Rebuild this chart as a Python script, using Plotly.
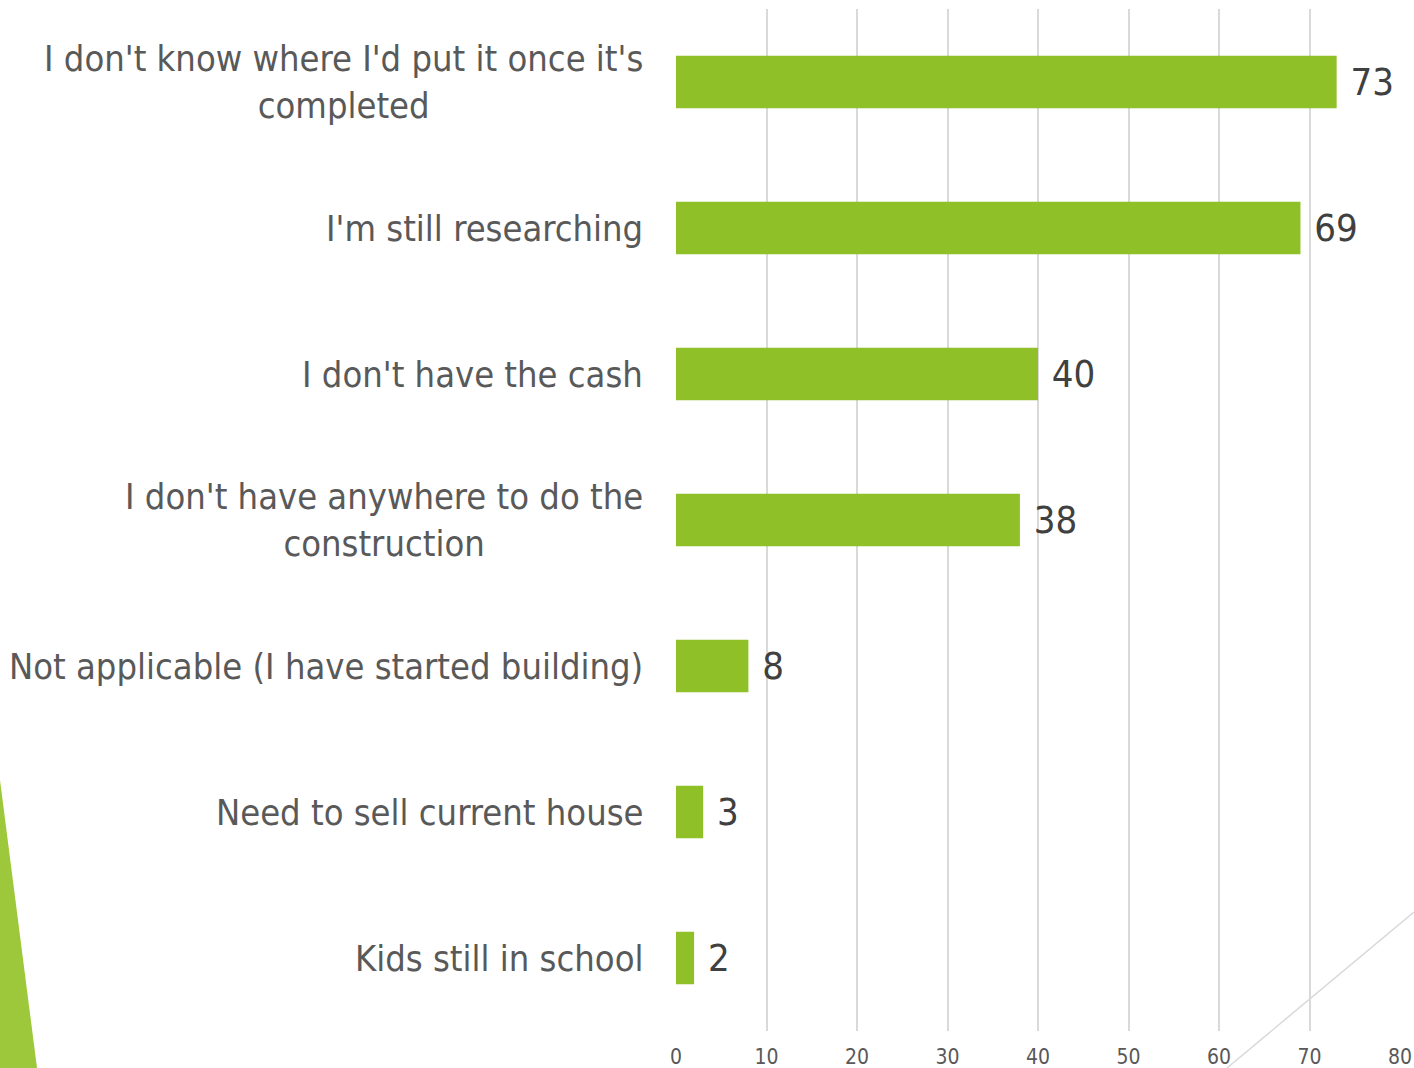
import plotly.graph_objects as go

categories = [
    "I don't know where I'd put it once it's<br>completed",
    "I'm still researching",
    "I don't have the cash",
    "I don't have anywhere to do the<br>construction",
    "Not applicable (I have started building)",
    "Need to sell current house",
    "Kids still in school",
]
counts = [73, 69, 40, 38, 8, 3, 2]
x_ticks = [0, 10, 20, 30, 40, 50, 60, 70, 80]

FONT = "Liberation Sans Narrow, DejaVu Sans Condensed, Arial Narrow, sans-serif"
GREEN = "#8FC027"
W, H = 1414, 1068
L, R, T, B = 676, 14, 9, 37


def px_to_paper(px, py):
    # convert page pixel to paper coords of the plot area
    return (px - L) / (W - L - R), 1 - (py - T) / (H - T - B)


fig = go.Figure()

fig.add_trace(
    go.Bar(
        x=counts,
        y=categories,
        orientation="h",
        marker=dict(color=GREEN, line=dict(width=0)),
        width=0.36,
        text=[f" {v}" for v in counts],
        textposition="outside",
        textfont=dict(family=FONT, size=38, color="#404040"),
        cliponaxis=False,
        hoverinfo="skip",
    )
)

for cat in categories:
    fig.add_annotation(
        x=0,
        xref="paper",
        xshift=-31,
        y=cat,
        yref="y",
        text=cat,
        showarrow=False,
        xanchor="right",
        align="center",
        font=dict(family=FONT, size=36, color="#595959"),
    )

# decorative triangle bottom left
p1 = px_to_paper(0, 780)
p2 = px_to_paper(37, 1068)
p3 = px_to_paper(0, 1068)
fig.add_shape(
    type="path",
    xref="paper",
    yref="paper",
    path=f"M {p1[0]} {p1[1]} L {p2[0]} {p2[1]} L {p3[0]} {p3[1]} Z",
    fillcolor="#9DC83C",
    line=dict(width=0),
)

# thin diagonal line bottom right
a = px_to_paper(1227, 1068)
b = px_to_paper(1414, 912)
fig.add_shape(
    type="line",
    xref="paper",
    yref="paper",
    x0=a[0], y0=a[1], x1=b[0], y1=b[1],
    line=dict(color="#D9D9D9", width=1.5),
)

fig.update_layout(
    width=W,
    height=H,
    margin=dict(l=L, r=R, t=T, b=B),
    plot_bgcolor="white",
    paper_bgcolor="white",
    showlegend=False,
    font=dict(family=FONT),
)

fig.update_xaxes(
    range=[0, 80],
    tickvals=x_ticks,
    showgrid=True,
    gridcolor="#D9D9D9",
    gridwidth=1.5,
    zeroline=False,
    showline=False,
    ticks="",
    tickfont=dict(family=FONT, size=21, color="#595959"),
    ticklabelstandoff=11,
    automargin=False,
)

fig.update_yaxes(
    autorange="reversed",
    showticklabels=False,
    showgrid=False,
    zeroline=False,
    showline=False,
    automargin=False,
)

fig.write_html(
    "out.html",
    config={"displayModeBar": False, "responsive": False},
    default_width=f"{W}px",
    default_height=f"{H}px",
    post_script="document.body.style.margin='0';document.body.style.overflow='hidden';",
)
